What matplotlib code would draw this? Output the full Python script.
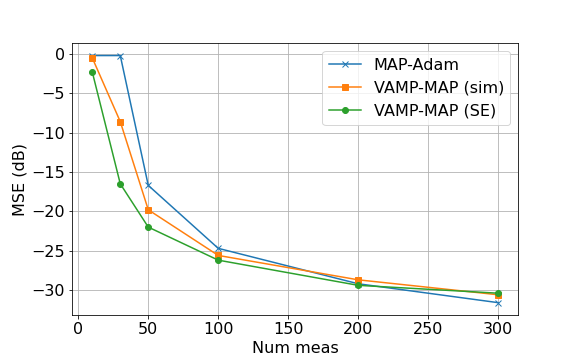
import numpy as np
import matplotlib
matplotlib.use("Agg")
import matplotlib.pyplot as plt

plt.rcParams['font.size'] = 16

# donnees
num_meas = [10, 30, 50, 100, 200, 300]
mse_map_adam = [-0.2, -0.2, -16.7, -24.7, -29.2, -31.6]
mse_vamp_sim = [-0.5, -8.6, -19.8, -25.6, -28.7, -30.6]
mse_vamp_se = [-2.3, -16.5, -22.0, -26.2, -29.4, -30.4]

fig, ax = plt.subplots(figsize=(8, 5), dpi=72)
fig.subplots_adjust(bottom=0.125)
ax.plot(num_meas, mse_map_adam, 'x-', label='MAP-Adam')
ax.plot(num_meas, mse_vamp_sim, 's-', label='VAMP-MAP (sim)')
ax.plot(num_meas, mse_vamp_se, 'o-', label='VAMP-MAP (SE)')
ax.set_xlabel('Num meas')
ax.set_ylabel('MSE (dB)')
ax.grid(True)
ax.legend()

fig.savefig('out.png')
